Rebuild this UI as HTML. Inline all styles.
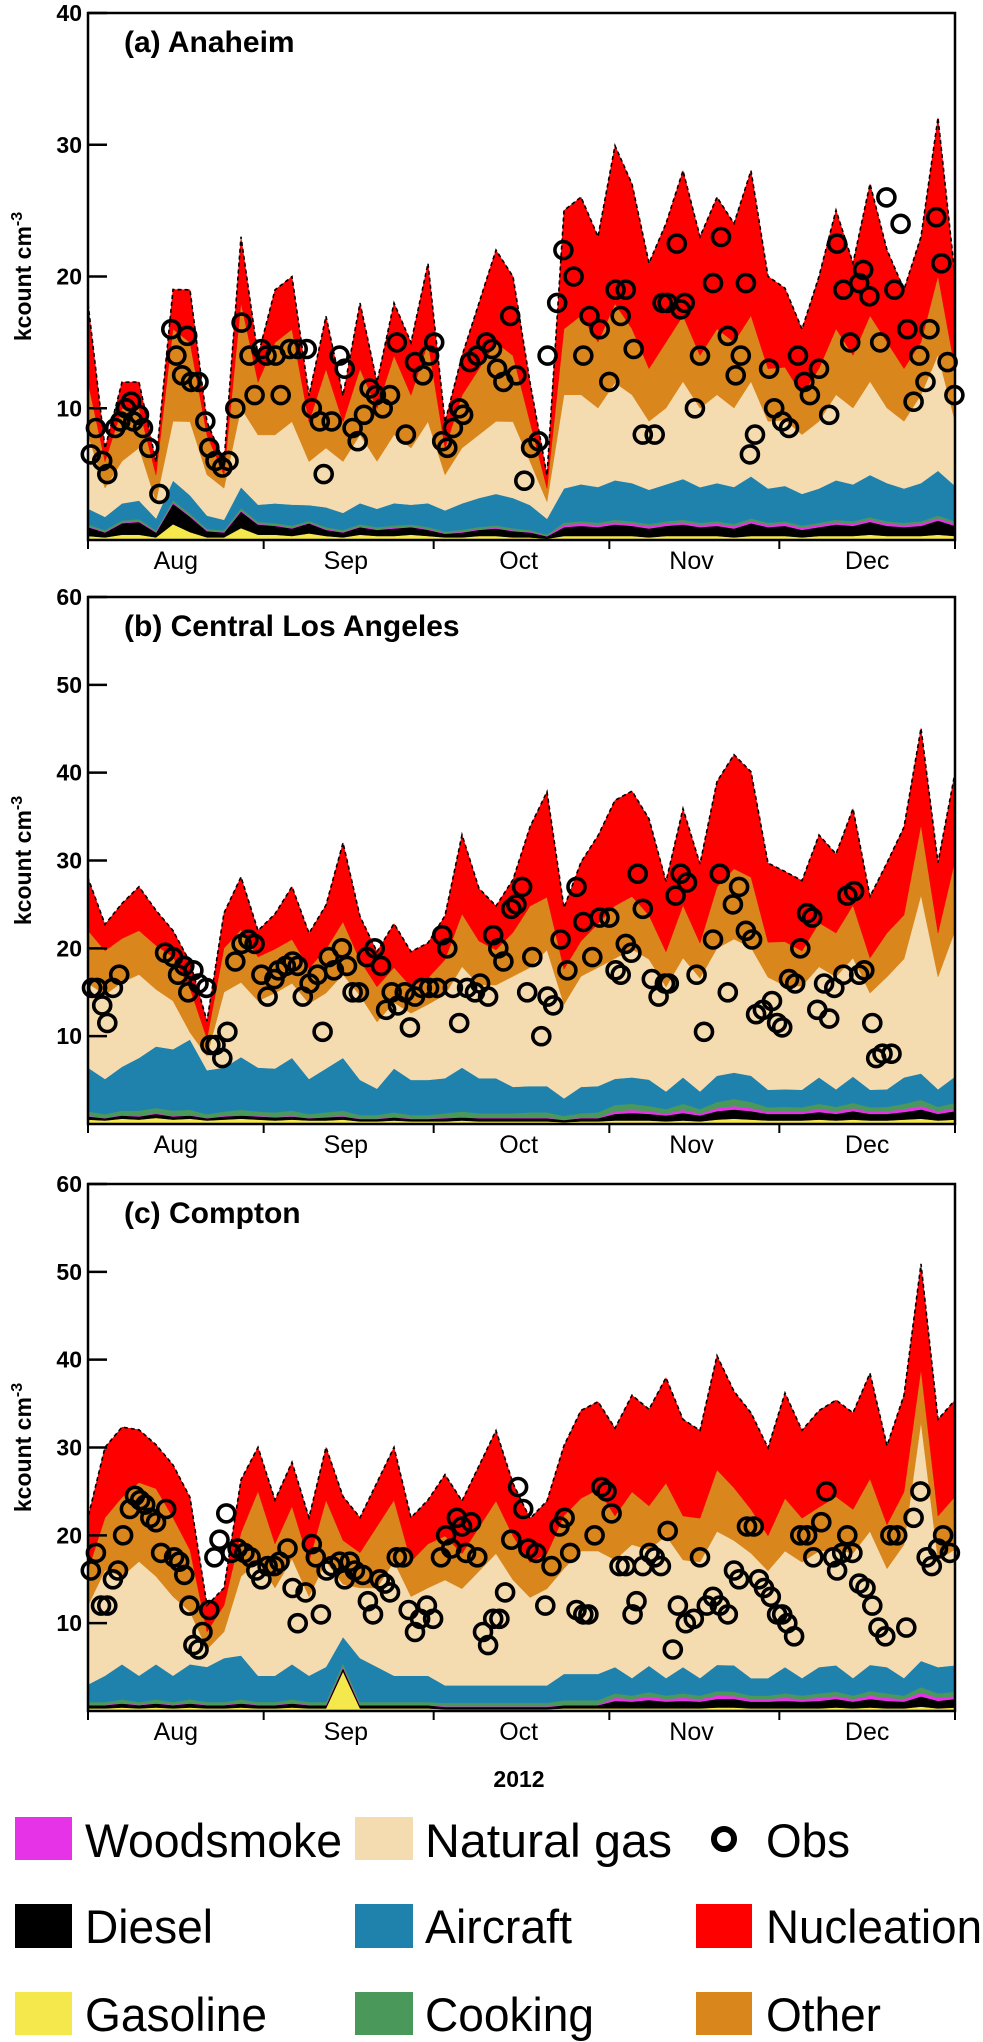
<!DOCTYPE html>
<html><head><meta charset="utf-8"><title>Source apportionment of particle number</title>
<style>
html,body{margin:0;padding:0;background:#fff;}
svg{display:block;font-family:"Liberation Sans",Arial,sans-serif;}
</style></head>
<body>
<svg id="fig" width="983" height="2042" viewBox="0 0 983 2042" xmlns="http://www.w3.org/2000/svg">
<defs>
<clipPath id="clipA"><rect x="88" y="13" width="867" height="527"/></clipPath>
<clipPath id="clipB"><rect x="88" y="597" width="867" height="527"/></clipPath>
<clipPath id="clipC"><rect x="88" y="1184" width="867" height="527"/></clipPath>
</defs>
<g id="panels"></g>
<text x="519" y="1787" font-size="23" font-weight="bold" text-anchor="middle">2012</text>
<g id="legend">
  <rect x="15" y="1817" width="57" height="43" fill="#e733e8"/>
  <text x="85" y="1857" font-size="47" textLength="257" lengthAdjust="spacingAndGlyphs">Woodsmoke</text>
  <rect x="355" y="1817" width="58" height="43" fill="#f5dcb0"/>
  <text x="425" y="1857" font-size="47" textLength="247" lengthAdjust="spacingAndGlyphs">Natural  gas</text>
  <circle cx="724" cy="1839" r="10" fill="none" stroke="#000" stroke-width="6"/>
  <text x="766" y="1857" font-size="47" textLength="84" lengthAdjust="spacingAndGlyphs">Obs</text>
  <rect x="15" y="1904" width="57" height="44" fill="#000"/>
  <text x="85" y="1943" font-size="47" textLength="128" lengthAdjust="spacingAndGlyphs">Diesel</text>
  <rect x="355" y="1904" width="58" height="44" fill="#1f82ad"/>
  <text x="425" y="1943" font-size="47" textLength="147" lengthAdjust="spacingAndGlyphs">Aircraft</text>
  <rect x="696" y="1904" width="56" height="44" fill="#ff0000"/>
  <text x="766" y="1943" font-size="47" textLength="216" lengthAdjust="spacingAndGlyphs">Nucleation</text>
  <rect x="15" y="1992" width="57" height="43" fill="#f4e84c"/>
  <text x="85" y="2031" font-size="47" textLength="182" lengthAdjust="spacingAndGlyphs">Gasoline</text>
  <rect x="355" y="1992" width="58" height="43" fill="#4a995a"/>
  <text x="425" y="2031" font-size="47" textLength="169" lengthAdjust="spacingAndGlyphs">Cooking</text>
  <rect x="696" y="1992" width="56" height="43" fill="#d9861c"/>
  <text x="766" y="2031" font-size="47" textLength="115" lengthAdjust="spacingAndGlyphs">Other</text>
</g>
</svg>
<script>
// ---- shared categories ----
const sampleDays=[0,3,6,9,12,15,18,21,24,27,30,33,36,39,42,45,48,51,54,57,60,63,66,69,72,75,78,81,84,87,90,93,96,99,102,105,108,111,114,117,120,123,126,129,132,135,138,141,144,147,150,153];
const monthStartDays=[0,31,61,92,122,153];
const monthLabels=["Aug","Sep","Oct","Nov","Dec"];
const monthMidDays=[15.5,45.5,76,106.5,137.5];

// ---- (a) Anaheim ----
const aGas=[0.3,0.2,0.4,0.4,0.2,1.2,0.6,0.2,0.2,0.9,0.4,0.4,0.3,0.5,0.3,0.2,0.4,0.3,0.3,0.4,0.3,0.2,0.2,0.3,0.3,0.2,0.2,0.1,0.3,0.3,0.3,0.3,0.3,0.2,0.3,0.3,0.3,0.3,0.2,0.3,0.3,0.3,0.2,0.3,0.3,0.3,0.4,0.3,0.3,0.3,0.4,0.3];
const aDiesel=[0.7,0.4,0.9,1.0,0.4,1.6,1.2,0.5,0.4,1.3,0.8,0.7,0.6,0.8,0.5,0.4,0.6,0.5,0.6,0.6,0.5,0.3,0.4,0.5,0.6,0.5,0.4,0.2,0.7,0.8,0.7,0.9,0.8,0.7,0.8,0.9,0.7,0.8,0.7,1.0,0.7,0.8,0.6,0.7,0.9,0.8,1.0,0.8,0.7,0.8,1.1,0.8];
const aWood=[0.03,0.03,0.03,0.03,0.03,0.03,0.03,0.03,0.03,0.03,0.03,0.03,0.03,0.03,0.03,0.03,0.03,0.03,0.03,0.03,0.03,0.03,0.03,0.03,0.03,0.03,0.03,0.03,0.15,0.15,0.15,0.15,0.15,0.15,0.15,0.15,0.15,0.15,0.15,0.15,0.15,0.15,0.15,0.15,0.15,0.15,0.15,0.15,0.15,0.15,0.15,0.15];
const aCook=[0.15,0.12,0.15,0.16,0.1,0.18,0.16,0.12,0.1,0.18,0.15,0.15,0.16,0.12,0.15,0.13,0.16,0.14,0.16,0.15,0.16,0.12,0.15,0.16,0.17,0.16,0.13,0.08,0.17,0.18,0.17,0.18,0.17,0.16,0.17,0.18,0.16,0.17,0.17,0.18,0.16,0.16,0.15,0.16,0.18,0.17,0.18,0.17,0.16,0.17,0.2,0.16];
const aAir=[1.2,1.0,1.3,1.4,0.9,1.5,1.4,1.0,0.8,1.6,1.3,1.5,1.6,1.2,1.5,1.3,1.6,1.4,1.7,1.5,1.8,1.6,2.0,2.2,2.4,2.3,1.9,1.2,2.6,2.8,2.7,3.0,2.9,2.6,2.8,3.1,2.7,2.9,2.8,3.2,2.6,2.7,2.4,2.6,3.0,2.8,3.2,2.9,2.6,2.9,3.4,2.7];
const aNg=[5.6,2.2,3.2,4,1.3,4.5,5.6,3.1,2.4,6,5.3,5.2,6.3,3.3,4.5,3.9,5.2,3.6,5.2,4.3,6.2,2.7,4.2,4.8,5.5,5.8,3.3,1.3,7.1,6.8,6,7.4,6.7,5.2,5.8,7.4,6,6.7,6,7.2,5.1,5,4.5,5.1,6.5,5.8,7.1,5.7,5.1,6.7,8.8,4.9];
const aOther=[4,2,4,3,2,7,6,3,1,8,4,7,7,3,6,3,5,4,6,4,6,2,4,5,6,5,3,1,5,6,5,6,5,4,5,5,4,5,5,5,4,4,3,4,5,4,5,5,4,4,6,4];
const aNuc=[6,1,2,2,1,3,4,1,1,5,2,4,4,2,4,2,5,2,4,4,6,2,3,5,7,6,3,1,9,9,8,12,11,8,9,11,9,10,9,11,7,6,5,7,9,7,10,7,6,8,12,7];
const aObsDay=[0.5,1.4,2.5,3.4,4.8,5.7,6.7,7.6,8.0,9.0,9.7,10.8,12.6,14.7,15.6,16.6,17.5,18.2,19.5,20.7,21.4,22.5,23.7,24.8,26.0,27.1,28.5,29.4,30.6,31.5,33.1,34.0,35.6,37.0,38.6,39.5,40.9,41.6,43.0,44.4,45.3,46.7,47.6,48.7,49.7,50.8,52.0,53.3,54.5,56.1,57.7,59.1,60.2,61.1,62.5,63.4,64.4,65.5,66.2,67.4,68.7,70.3,71.3,72.2,73.3,74.5,75.6,77.0,78.2,79.5,81.1,82.8,83.9,85.7,87.4,88.5,90.3,92.0,93.1,94.0,94.9,96.3,97.9,100.0,101.4,102.3,103.9,104.6,105.3,107.1,108.0,110.3,111.7,112.9,114.3,115.2,116.1,116.8,117.7,120.2,121.1,122.5,123.7,125.3,126.4,127.4,129.0,130.8,132.2,133.3,134.5,136.1,136.8,137.9,139.8,140.9,142.3,143.4,144.6,145.7,146.7,147.8,148.5,149.7,150.6,151.7,152.9];
const aObsVal=[6.5,8.5,6,5,8.5,9,10,10.5,9,9.5,8.5,7,3.5,16,14,12.5,15.5,12,12,9,7,6,5.5,6,10,16.5,14,11,14.5,14,14,11,14.5,14.5,14.5,10,9,5,9,14,13,8.5,7.5,9.5,11.5,11,10,11,15,8,13.5,12.5,14,15,7.5,7,8.5,10,9.5,13.5,14,15,14.5,13,12,17,12.5,4.5,7,7.5,14,18,22,20,14,17,16,12,19,17,19,14.5,8,8,18,18,22.5,17.5,18,10,14,19.5,23,15.5,12.5,14,19.5,6.5,8,13,10,9,8.5,14,12,11,13,9.5,22.5,19,15,19.5,20.5,18.5,15,26,19,24,16,10.5,14,12,16,24.5,21,13.5,11];
const aYTicks=[10,20,30,40];

// ---- (b) Central Los Angeles ----
const bGas=[0.5,0.4,0.6,0.5,0.7,0.5,0.6,0.4,0.5,0.6,0.5,0.4,0.5,0.4,0.4,0.5,0.3,0.3,0.4,0.3,0.3,0.3,0.4,0.3,0.3,0.3,0.3,0.3,0.2,0.3,0.3,0.4,0.4,0.4,0.3,0.4,0.3,0.5,0.6,0.5,0.4,0.4,0.4,0.5,0.4,0.5,0.4,0.4,0.5,0.6,0.4,0.5];
const bDiesel=[0.4,0.3,0.4,0.4,0.5,0.4,0.4,0.3,0.4,0.4,0.4,0.4,0.4,0.3,0.4,0.4,0.3,0.3,0.4,0.3,0.3,0.4,0.4,0.4,0.4,0.4,0.4,0.4,0.3,0.4,0.4,0.8,0.9,0.8,0.7,0.9,0.7,1.0,1.1,1.0,0.8,0.8,0.8,0.9,0.8,1.0,0.8,0.8,0.9,1.1,0.8,1.0];
const bWood=[0.02,0.02,0.02,0.02,0.02,0.02,0.02,0.02,0.02,0.02,0.02,0.02,0.02,0.02,0.02,0.02,0.02,0.02,0.02,0.02,0.02,0.02,0.02,0.02,0.02,0.02,0.02,0.02,0.02,0.02,0.02,0.25,0.3,0.25,0.2,0.3,0.2,0.3,0.35,0.3,0.2,0.25,0.2,0.3,0.25,0.3,0.2,0.25,0.3,0.35,0.25,0.3];
const bCook=[0.5,0.4,0.5,0.6,0.6,0.6,0.6,0.4,0.5,0.6,0.5,0.5,0.6,0.4,0.5,0.6,0.4,0.4,0.5,0.4,0.4,0.5,0.6,0.5,0.5,0.5,0.6,0.6,0.4,0.5,0.6,0.7,0.7,0.6,0.5,0.7,0.5,0.7,0.8,0.7,0.5,0.5,0.5,0.6,0.5,0.6,0.5,0.5,0.6,0.7,0.5,0.6];
const bAir=[5,4,5,6,7,7,8,5,5,6,5,5,6,4,5,6,4,3,5,4,4,4,5,4,4,3,3,3,2,3,3,3,3,3,2,3,2,3,3,3,2,2,2,3,2,3,2,2,3,3,2,3];
const bNg=[9.6,9.6,9.6,9.5,6.5,5.5,0.8,1.6,8.6,8.5,7.6,8.6,8.5,8.6,8.6,9.5,9.6,7.6,7.5,7.6,8.6,9.5,11.5,10.6,10.6,12.6,13.5,15.5,10.7,12.6,13.5,13.7,14.6,13.7,11.9,13.6,12.9,14.5,15.2,14.6,12.8,11.8,11.8,12.6,12.8,13.5,11,12.8,13.5,20.3,12.8,16.6];
const bOther=[6,5,5,5,5,5,5,2,5,6,5,5,5,4,5,6,4,4,4,3,3,4,6,5,4,5,7,6,4,4,5,6,6,5,4,6,4,7,8,8,4,5,4,5,5,6,4,5,5,8,5,8];
const bNuc=[6,3,4,5,4,3,3,2,4,6,3,4,6,4,5,9,5,4,5,4,4,5,9,6,5,6,9,12,7,9,10,12,12,11,8,11,9,12,13,12,9,8,8,10,9,11,7,8,10,11,8,10];
const bObsDay=[0.7,1.6,2.5,3.4,4.4,5.5,13.6,15,15.9,17,17.7,18.6,19.5,20.9,21.6,22.5,23.7,24.6,26,27.1,28.3,29.4,30.6,31.7,32.9,33.6,34.9,36.1,37,37.9,39.1,40.5,41.4,42.5,43.4,44.8,45.7,46.7,47.8,49.2,50.6,51.7,52.6,53.6,54.7,55.9,56.8,57.7,58.9,60.2,61.6,62.5,63.4,64.4,65.5,66.9,68.3,69.2,70.6,71.5,72.4,73.3,74.7,75.6,76.6,77.5,78.4,80,81.1,82.1,83.4,84.6,86.2,87.4,89,90.3,92,93.1,94,94.9,95.9,97,97.9,99.5,100.7,101.8,102.5,103.7,104.6,105.7,107.4,108.7,110.3,111.5,112.9,113.8,114.9,116.1,117.2,117.9,119.1,120.7,121.6,122.5,123.7,124.8,125.7,126.9,127.8,128.7,129.9,130.8,131.7,133.3,134,135.2,136.1,137,138.4,139.1,140.2,141.8];
const bObsVal=[15.5,15.5,13.5,11.5,15.5,17,19.5,19,17,18,15,17.5,16,15.5,9,9,7.5,10.5,18.5,20.5,21,20.5,17,14.5,16.5,17.5,18,18.5,18,14.5,16,17,10.5,19,17.5,20,18,15,15,19,20,18,13,15,13.5,15,11,14.5,15.5,15.5,15.5,21.5,20,15.5,11.5,15.5,15,16,14.5,21.5,20,18.5,24.5,25,27,15,19,10,14.5,13.5,21,17.5,27,23,19,23.5,23.5,17.5,17,20.5,19.5,28.5,24.5,16.5,14.5,16,16,26,28.5,27.5,17,10.5,21,28.5,15,25,27,22,21,12.5,13,14,11.5,11,16.5,16,20,24,23.5,13,16,12,15.5,17,26,26.5,17,17.5,11.5,7.5,8,8];
const bYTicks=[10,20,30,40,50,60];

// ---- (c) Compton ----
const cGas=[0.3,0.3,0.4,0.3,0.4,0.3,0.4,0.3,0.3,0.4,0.3,0.3,0.4,0.3,0.3,4.5,0.3,0.3,0.3,0.3,0.3,0.2,0.2,0.2,0.2,0.2,0.2,0.2,0.3,0.3,0.3,0.3,0.3,0.3,0.3,0.3,0.3,0.4,0.4,0.3,0.3,0.3,0.3,0.3,0.4,0.3,0.4,0.3,0.3,0.5,0.3,0.4];
const cDiesel=[0.4,0.4,0.5,0.4,0.5,0.4,0.5,0.4,0.4,0.5,0.4,0.4,0.5,0.4,0.4,0.5,0.4,0.4,0.4,0.4,0.4,0.3,0.3,0.3,0.3,0.3,0.3,0.3,0.4,0.4,0.4,0.9,0.8,1.0,0.8,0.9,0.8,1.0,1.0,0.8,0.8,0.9,0.8,0.9,1.0,0.8,1.0,0.9,0.8,1.2,0.9,1.0];
const cWood=[0.02,0.02,0.02,0.02,0.02,0.02,0.02,0.02,0.02,0.02,0.02,0.02,0.02,0.02,0.02,0.02,0.02,0.02,0.02,0.02,0.02,0.02,0.02,0.02,0.02,0.02,0.02,0.02,0.02,0.02,0.02,0.3,0.25,0.35,0.25,0.3,0.25,0.35,0.3,0.25,0.25,0.3,0.25,0.3,0.3,0.25,0.35,0.3,0.25,0.4,0.3,0.3];
const cCook=[0.3,0.3,0.4,0.3,0.4,0.3,0.4,0.3,0.3,0.4,0.3,0.3,0.4,0.3,0.3,0.4,0.3,0.3,0.3,0.3,0.3,0.4,0.4,0.4,0.4,0.4,0.4,0.4,0.5,0.5,0.5,0.5,0.4,0.5,0.4,0.5,0.4,0.5,0.5,0.4,0.4,0.5,0.4,0.5,0.5,0.4,0.5,0.5,0.4,0.6,0.5,0.5];
const cAir=[2,3,4,3,4,3,4,4,5,5,3,3,4,3,4,3,5,4,3,3,3,2,2,2,2,2,2,2,3,3,3,3,2,3,2,3,2,3,3,2,2,3,2,3,3,2,3,3,2,3,3,3];
const cNg=[9,12,10,13,10,9,6,2,3,9,13,10,12,9,12,6,8,9,13,9,10,12,11,13,15,12,10,11,12,14,14,12.2,15.2,13.2,16.2,12.2,13.2,15.2,14.2,14.2,12.2,13.2,13.2,13.2,13.2,14.2,15.2,11.2,15.2,27.2,12.2,13.2];
const cOther=[4,6,9,9,10,9,7,2,3,5,8,5,6,4,7,5,4,7,7,4,5,5,4,5,6,5,4,4,6,6,7,5,6,5,6,5,5,7,6,5,4,6,5,5,6,5,6,5,6,6,5,6];
const cNuc=[6,8,8,6,5,6,6,3,2,6,5,5,5,5,6,5,4,5,6,5,5,7,6,7,8,6,5,6,8,10,10,10,11,11,12,11,10,13,11,11,10,12,10,11,11,11,12,9,11,12,11,11];
const cObsDay=[0.5,1.4,2.3,3.4,4.4,5.3,6.2,7.4,8.3,9.2,10.1,11,12,12.9,13.8,15.2,16.1,17,17.9,18.6,19.5,20.2,21.4,22.3,23.2,24.4,25.3,26.4,27.6,28.7,29.7,30.6,31.7,32.9,33.8,35.2,36.1,37,38.4,39.5,40.2,41.1,42.1,43,44.4,45.3,46.2,47.1,48.5,49.4,50.3,51.5,52.4,53.3,54.5,55.6,56.6,57.7,58.6,59.8,60.9,62.3,63.2,64.1,65.1,66,66.7,67.6,68.7,69.7,70.6,71.5,72.6,73.6,74.7,75.9,76.8,77.7,79.1,80.7,81.8,83.2,84.1,85.1,86.2,87.4,88.3,89.4,90.6,91.5,92.4,93.8,94.9,96.1,96.8,97.9,99.1,100,101.1,102.3,103.2,104.1,105.5,106.9,108,109.2,110.3,111.5,112.9,114,114.9,116.3,117.5,118.4,119.3,120.5,121.6,122.5,123.4,124.6,125.7,126.9,128,129.4,130.3,131.5,132.2,133.1,134,134.9,136.1,137.2,138.4,139.5,140.7,141.6,142.8,144.4,145.7,146.9,148,148.9,150,150.9,152.1];
const cObsVal=[16,18,12,12,15,16,20,23,24.5,24,23.5,22,21.5,18,23,17.5,17,15.5,12,7.5,7,9,11.5,17.5,19.5,22.5,18,18.5,18,17.5,16,15,16.5,16.5,17,18.5,14,10,13.5,19,17.5,11,16,16.5,17,15,17,16,15.5,12.5,11,15,14.5,13.5,17.5,17.5,11.5,9,10.5,12,10.5,17.5,20,18.5,22,21,18,21.5,17.5,9,7.5,10.5,10.5,13.5,19.5,25.5,23,18.5,18,12,16.5,21,22,18,11.5,11,11,20,25.5,25,22.5,16.5,16.5,11,12.5,16.5,18,17.5,16.5,20.5,7,12,10,10.5,17.5,12,13,12,11,16,15,21,21,15,14,13,11,11,10,8.5,20,20,17.5,21.5,25,17.5,16,18,20,18,14.5,14,12,9.5,8.5,20,20,9.5,22,25,17.5,16.5,18.5,20,18];
const cYTicks=[10,20,30,40,50,60];

// ---- rendering ----
const NS="http://www.w3.org/2000/svg";
const X0=88, X1=955, D0=0, D1=153;
function xScale(d){return X0+(d-D0)/(D1-D0)*(X1-X0);}
const layerColors=["#f4e84c","#000000","#e733e8","#4a995a","#1f82ad","#f5dcb0","#d9861c","#ff0000"];
const layerNames=["gasoline","diesel","woodsmoke","cooking","aircraft","natural-gas","other","nucleation"];
function mk(tag,attrs,parent){const e=document.createElementNS(NS,tag);for(const k in attrs)e.setAttribute(k,attrs[k]);parent.appendChild(e);return e;}

const panels=[
 {id:"a",title:"(a) Anaheim",top:13,bottom:540,ymax:40,ticks:aYTicks,clip:"clipA",layers:[aGas,aDiesel,aWood,aCook,aAir,aNg,aOther,aNuc],obsD:aObsDay,obsV:aObsVal},
 {id:"b",title:"(b) Central Los Angeles",top:597,bottom:1124,ymax:60,ticks:bYTicks,clip:"clipB",layers:[bGas,bDiesel,bWood,bCook,bAir,bNg,bOther,bNuc],obsD:bObsDay,obsV:bObsVal},
 {id:"c",title:"(c) Compton",top:1184,bottom:1711,ymax:60,ticks:cYTicks,clip:"clipC",layers:[cGas,cDiesel,cWood,cCook,cAir,cNg,cOther,cNuc],obsD:cObsDay,obsV:cObsVal}
];
const root=document.getElementById('panels');
panels.forEach(p=>{
  const yScale=v=>p.bottom-(v/p.ymax)*(p.bottom-p.top);
  const g=mk('g',{},root);
  
  
  const plot=mk('g',{'clip-path':'url(#'+p.clip+')'},g);
  
  
  const n=sampleDays.length;
  let lower=new Array(n).fill(0);
  p.layers.forEach((arr,li)=>{
    const upper=lower.map((v,i)=>v+(arr[i]||0));
    let dstr="M"+xScale(sampleDays[0])+","+yScale(upper[0]);
    for(let i=1;i<n;i++)dstr+="L"+xScale(sampleDays[i]).toFixed(1)+","+yScale(upper[i]).toFixed(1);
    for(let i=n-1;i>=0;i--)dstr+="L"+xScale(sampleDays[i]).toFixed(1)+","+yScale(lower[i]).toFixed(1);
    dstr+="Z";
    const path=mk('path',{d:dstr,fill:layerColors[li],stroke:layerColors[li],'stroke-width':li===2?1.2:0.5},plot);
    
    
    lower=upper;
  });
  let tl="M"+xScale(sampleDays[0])+","+yScale(0);
  for(let i=0;i<n;i++)tl+="L"+xScale(sampleDays[i]).toFixed(1)+","+yScale(lower[i]).toFixed(1);
  const tline=mk('path',{d:tl,fill:'none',stroke:'#000','stroke-width':1.6,'stroke-dasharray':'4,3'},plot);
  
  
  const m=Math.min(p.obsD.length,p.obsV.length);
  for(let i=0;i<m;i++){
    const c=mk('circle',{cx:xScale(p.obsD[i]).toFixed(1),cy:yScale(p.obsV[i]).toFixed(1),r:8.5,fill:'none',stroke:'#000','stroke-width':3.6},g);
    
    
  }
  const frame=mk('rect',{x:X0,y:p.top,width:X1-X0,height:p.bottom-p.top,fill:'none',stroke:'#000','stroke-width':2.5},g);
  
  
  p.ticks.forEach(t=>{
    const y=yScale(t);
    const tk=mk('line',{x1:X0,x2:X0+19,y1:y,y2:y,stroke:'#000','stroke-width':2.5},g);
    
    
    const lb=mk('text',{x:82,y:y+8,'font-size':23,'font-weight':'bold','text-anchor':'end'},g);
    lb.textContent=t;
    
    
  });
  monthStartDays.forEach(d=>{
    const x=xScale(d);
    const tk=mk('line',{x1:x,x2:x,y1:p.bottom,y2:p.bottom+9,stroke:'#000','stroke-width':2},g);
    
    
  });
  monthLabels.forEach((lab,i)=>{
    const t=mk('text',{x:xScale(monthMidDays[i]),y:p.bottom+29,'font-size':25,'text-anchor':'middle'},g);
    t.textContent=lab;
    
    
  });
  const title=mk('text',{x:124,y:p.top+39,'font-size':30,'font-weight':'bold'},g);
  title.textContent=p.title;
  
  
  const cy=(p.top+p.bottom)/2;
  const yt=mk('text',{x:0,y:0,'font-size':23,'font-weight':'bold','text-anchor':'middle',transform:'translate(31,'+cy+') rotate(-90)'},g);
  
  
  yt.appendChild(document.createTextNode('kcount cm'));
  const sup=mk('tspan',{dy:-9,'font-size':16},yt);
  sup.textContent='-3';
});
</script>
</body></html>
